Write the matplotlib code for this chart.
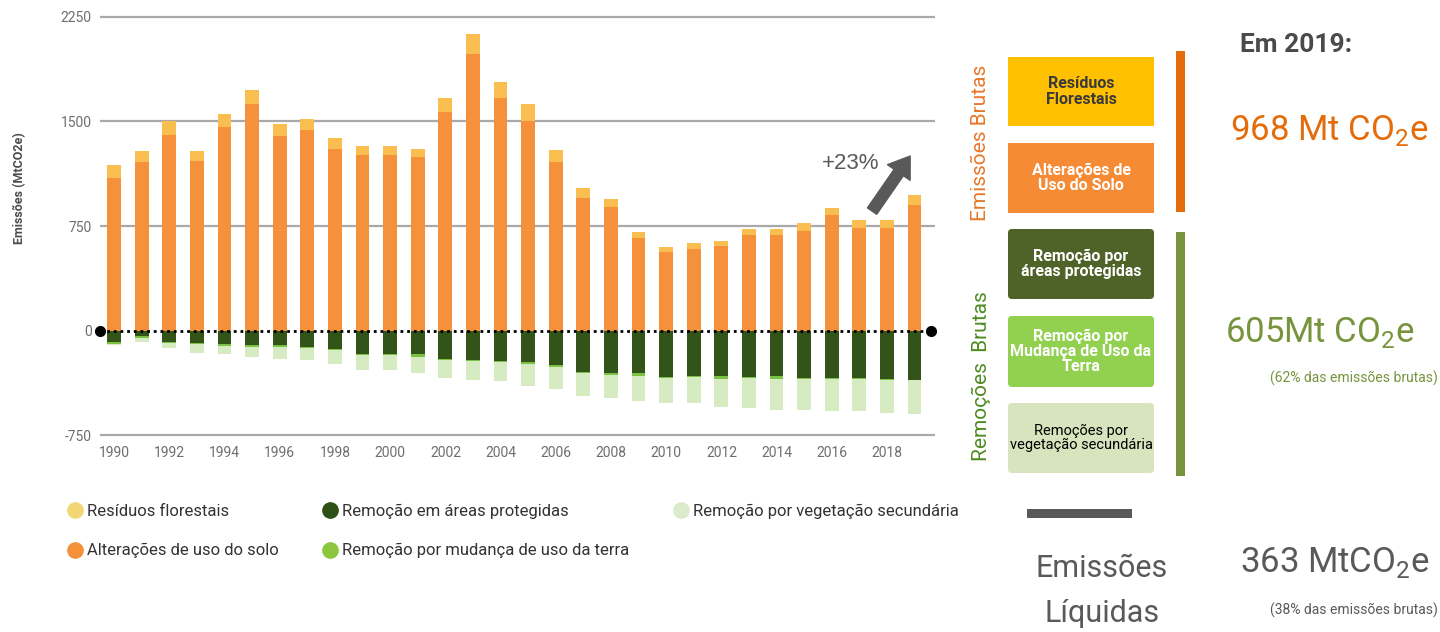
import matplotlib

matplotlib.use("Agg")
import matplotlib.pyplot as plt
from matplotlib.lines import Line2D
from matplotlib.patches import FancyBboxPatch, Rectangle

FONTE = ["Roboto", "DejaVu Sans"]
plt.rcParams["font.family"] = FONTE
plt.rcParams["mathtext.fontset"] = "custom"
plt.rcParams["mathtext.rm"] = "Roboto"

# --- dados (MtCO2e) ---
anos = list(range(1990, 2020))
alteracoes_solo = [1097, 1210, 1406, 1220, 1462, 1622, 1397, 1438, 1306, 1256,
                   1256, 1244, 1569, 1984, 1670, 1507, 1210, 949, 889, 661,
                   565, 587, 609, 683, 683, 714, 827, 738, 738, 901]
residuos_florestais = [91, 79, 99, 69, 95, 103, 84, 83, 76, 71,
                       71, 59, 99, 141, 115, 115, 86, 74, 57, 46,
                       32, 43, 36, 43, 43, 60, 50, 53, 53, 69]
# remoções (valores positivos, desenhados para baixo)
rem_areas_protegidas = [81, 41, 81, 93, 100, 105, 105, 115, 136, 170,
                        170, 167, 206, 213, 222, 229, 251, 299, 308, 306,
                        332, 327, 327, 332, 327, 342, 342, 342, 351, 354]
rem_mudanca_uso = [19, 12, 7, 7, 10, 10, 10, 7, 7, 9,
                   9, 22, 7, 7, 7, 12, 9, 9, 10, 21,
                   10, 10, 22, 10, 22, 5, 9, 9, 5, 2]
rem_vegetacao_sec = [3, 28, 36, 60, 57, 74, 86, 91, 98, 105,
                     105, 117, 129, 134, 134, 158, 161, 160, 165, 177,
                     181, 186, 198, 217, 220, 222, 230, 230, 234, 246]

yticks = [-750, 0, 750, 1500, 2250]
xticks = list(range(1990, 2019, 2))

legenda = ["Resíduos florestais", "Alterações de uso do solo",
           "Remoção em áreas protegidas", "Remoção por mudança de uso da terra",
           "Remoção por vegetação secundária"]

C_ORANGE = "#F4913A"
C_YELLOW = "#F9BD50"
C_DARK = "#335418"
C_MID = "#7BC143"
C_LIGHT = "#D7EBC3"

fig = plt.figure(figsize=(14.4, 6.32), dpi=100)
ax = fig.add_axes([100 / 1440, 1 - 437.8 / 632, 835 / 1440, (437.8 - 14.2) / 632])

w = 0.5
ax.bar(anos, alteracoes_solo, w, color=C_ORANGE, zorder=2)
ax.bar(anos, residuos_florestais, w, bottom=alteracoes_solo, color=C_YELLOW, zorder=2)
ax.bar(anos, [-v for v in rem_areas_protegidas], w, color=C_DARK, zorder=2)
ax.bar(anos, [-v for v in rem_mudanca_uso], w,
       bottom=[-v for v in rem_areas_protegidas], color=C_MID, zorder=2)
light_bottom = [-(a + b) for a, b in zip(rem_areas_protegidas, rem_mudanca_uso)]
ax.bar(anos, [-v for v in rem_vegetacao_sec], w, bottom=light_bottom, color=C_LIGHT, zorder=2)

ax.set_xlim(1989.486, 2019.74)
ax.set_ylim(-770, 2270)
for y in yticks:
    if y != 0:
        ax.axhline(y, color="#A9A9A9", lw=1.6, zorder=1)
ax.axhline(0, color="black", lw=2, ls=(0, (1, 1.4)), zorder=3)
ax.plot([1989.49, 2019.6], [0, 0], "o", color="black", ms=7, clip_on=False, zorder=4)

ax.set_yticks(yticks)
ax.set_yticklabels([str(v) for v in yticks])
ax.set_xticks(xticks)
ax.tick_params(length=0, labelsize=10, labelcolor="#6D6E71", pad=6)
for s in ax.spines.values():
    s.set_visible(False)

fig.text(20 / 1440, 1 - 188 / 632, "Emissões (MtCO2e)", rotation=90, ha="center", va="center",
         fontsize=9, fontweight="bold", color="#4D4D4F")

# seta +23%
ax.annotate("", xy=(2018.84, 1252), xytext=(2017.46, 857),
            arrowprops=dict(arrowstyle="simple,head_length=0.8,head_width=1.1,tail_width=0.45",
                            color="#595959", mutation_scale=18, shrinkA=0, shrinkB=0), zorder=5)
ax.text(2016.70, 1201, "+23%", ha="center", va="center", fontsize=16,
        family=["Liberation Sans", "DejaVu Sans"], color="#595959")

# legenda
cores_leg = ["#F2D675", C_ORANGE, "#2D5016", "#8CC63F", "#DCEBCB"]
handles = [Line2D([], [], ls="", marker="o", ms=11, color=c) for c in cores_leg]
fig.legend(handles, legenda, loc="upper left", bbox_to_anchor=(52 / 1440, 1 - 489 / 632),
           ncol=3, frameon=False, fontsize=12, handletextpad=0.2, columnspacing=2.6,
           labelspacing=1.45, handlelength=1.0, labelcolor="#333333")

# --- painel da direita (coordenadas em pixels) ---
pax = fig.add_axes([0, 0, 1, 1], zorder=-1)
pax.set_xlim(0, 1440)
pax.set_ylim(632, 0)
pax.axis("off")

caixas = [
    ("Resíduos\nFlorestais", "#FFC000", "#3A3A3A", "bold", 57, 126, 0),
    ("Alterações de\nUso do Solo", "#F58B35", "white", "bold", 143, 213, 0),
    ("Remoção por\náreas protegidas", "#4F6228", "white", "bold", 229, 299, 4),
    ("Remoção por\nMudança de Uso da\nTerra", "#92D050", "white", "bold", 316, 387, 4),
    ("Remoções por\nvegetação secundária", "#D7E4BD", "black", "normal", 403, 473, 4),
]
for txt, fc, tc, fw, y0, y1, r in caixas:
    if r:
        p = FancyBboxPatch((1008 + r, y0 + r), 146 - 2 * r, (y1 - y0) - 2 * r,
                           boxstyle=f"round,pad={r}", fc=fc, ec="none")
    else:
        p = Rectangle((1008, y0), 146, y1 - y0, fc=fc, ec="none")
    pax.add_patch(p)
    pax.text(1081, (y0 + y1) / 2, txt, ha="center", va="center",
             fontsize=11.5 if fw == "bold" else 10.5,
             fontweight=fw, color=tc, linespacing=1.0)

pax.add_patch(Rectangle((1176, 51), 9, 161, fc="#E46C0A", ec="none"))
pax.add_patch(Rectangle((1176, 232), 9, 244, fc="#77933C", ec="none"))
pax.add_patch(Rectangle((1027, 509), 105, 9, fc="#595959", ec="none"))

pax.text(981, 143, "Emissões Brutas", rotation=90, ha="center", va="center",
         fontsize=15, color="#E8782A")
pax.text(981, 376, "Remoções  Brutas", rotation=90, ha="center", va="center",
         fontsize=15, color="#4E8A21")

pax.text(1240, 52, "Em 2019:", ha="left", va="baseline", fontsize=19,
         fontweight="bold", color="#4A4A4A")
pax.text(1230, 140, r"968 Mt CO$_2$e", ha="left", va="baseline", fontsize=25, color="#E46C0A")
pax.text(1225, 342, r"605Mt CO$_2$e", ha="left", va="baseline", fontsize=25, color="#77933C")
pax.text(1438, 383, "(62% das emissões brutas)", ha="right", va="baseline",
         fontsize=10, color="#77933C")
pax.text(1240, 572, r"363 MtCO$_2$e", ha="left", va="baseline", fontsize=25, color="#595959")
pax.text(1438, 615, "(38% das emissões brutas)", ha="right", va="baseline",
         fontsize=10, color="#595959")
pax.text(1102, 577, "Emissões", ha="center", va="baseline", fontsize=22, color="#595959")
pax.text(1102, 622, "Líquidas", ha="center", va="baseline", fontsize=22, color="#595959")

fig.savefig("out.png", dpi=100)
